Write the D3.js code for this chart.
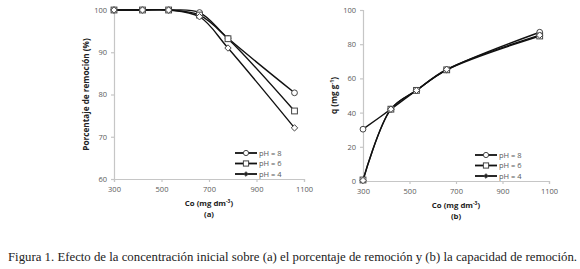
<!DOCTYPE html>
<html><head><meta charset="utf-8">
<script src="https://cdn.jsdelivr.net/npm/d3@7/dist/d3.min.js"></script>
<style>body{margin:0;background:#fff}svg{display:block}</style>
</head><body>
<svg id="c" width="580" height="269"></svg>
<script>
// Data
const seriesNames = ["pH = 8", "pH = 6", "pH = 4"];
const coA = [300, 420, 530, 660, 780, 1060];
const removalPH8 = [100, 100, 100, 99.4, 93.3, 80.4];
const removalPH6 = [100, 100, 100, 98.8, 93.2, 76.1];
const removalPH4 = [100, 100, 100, 98.4, 91.0, 72.1];
const coB = [300, 420, 530, 660, 1060];
const qPH8 = [30.3, 42, 53, 65, 87];
const qPH6 = [0.6, 42, 53, 65, 84.8];
const qPH4 = [0.3, 42, 53, 65.3, 85.3];
const xTicks = [300, 500, 700, 900, 1100];
const yTicksA = [60, 70, 80, 90, 100];
const yTicksB = [0, 20, 40, 60, 80, 100];
const caption = "Figura 1. Efecto de la concentración inicial sobre (a) el porcentaje de remoción y (b) la capacidad de remoción.";

const svg = d3.select("#c");
const axisColor = "#c6c6c6", tickText = "#595959";
const fontSans = "'Open Sans', sans-serif";
const markers = ["circle", "square", "diamond"];

function drawMarker(g, type, x, y, legend) {
  const s = legend ? 2.6 : 2.9;
  if (type === "circle") {
    g.append("circle").attr("cx", x).attr("cy", y).attr("r", s)
      .attr("fill", "#fff").attr("stroke", "#444").attr("stroke-width", 1);
  } else if (type === "square") {
    g.append("rect").attr("x", x - s).attr("y", y - s).attr("width", 2 * s).attr("height", 2 * s)
      .attr("fill", "#fff").attr("stroke", "#444").attr("stroke-width", 1);
  } else {
    const d = legend ? 2.3 : 3.2;
    g.append("path").attr("d", `M${x},${y - d}L${x + d},${y}L${x},${y + d}L${x - d},${y}Z`)
      .attr("fill", legend ? "#222" : "#fff").attr("stroke", "#444").attr("stroke-width", 1);
  }
}

function panel(cfg) {
  const g = svg.append("g");
  const x = d3.scaleLinear().domain([300, 1100]).range([cfg.x0, cfg.x1]);
  const y = d3.scaleLinear().domain(cfg.yDomain).range([cfg.y1, cfg.y0]);

  const xa = g.append("g").attr("transform", `translate(0,${cfg.y1})`)
    .call(d3.axisBottom(x).tickValues(xTicks).tickFormat(d3.format("d")).tickSize(3).tickPadding(5));
  const ya = g.append("g").attr("transform", `translate(${cfg.x0},0)`)
    .call(d3.axisLeft(y).tickValues(cfg.yTicks).tickFormat(d3.format("d")).tickSize(3).tickPadding(4));
  [xa, ya].forEach(a => {
    a.selectAll("path,line").attr("stroke", axisColor).attr("stroke-width", 1.2);
    a.selectAll("text").attr("fill", tickText).style("font-family", fontSans).style("font-size", "7.5px");
  });

  const line = d3.line().x(d => x(d[0])).y(d => y(d[1])).curve(d3.curveCatmullRom.alpha(0.5));
  cfg.series.forEach((vals, i) => {
    const pts = cfg.xs.map((v, k) => [v, vals[k]]);
    g.append("path").datum(pts).attr("d", line).attr("fill", "none")
      .attr("stroke", "#111").attr("stroke-width", 1.4);
  });
  cfg.series.forEach((vals, i) => {
    cfg.xs.forEach((v, k) => drawMarker(g, markers[i], x(v), y(vals[k]), false));
  });

  // legend
  seriesNames.forEach((n, i) => {
    const ly = cfg.ly + i * 10.5;
    g.append("line").attr("x1", cfg.lx).attr("x2", cfg.lx + 22).attr("y1", ly).attr("y2", ly)
      .attr("stroke", "#111").attr("stroke-width", 1.8);
    drawMarker(g, markers[i], cfg.lx + 11, ly, true);
    g.append("text").attr("x", cfg.lx + 24).attr("y", ly + 2.8).text(n)
      .attr("fill", tickText).style("font-family", fontSans).style("font-size", "7.5px");
  });

  // axis titles
  const cx = (cfg.x0 + cfg.x1) / 2;
  const xt = g.append("text").attr("x", cx).attr("y", cfg.y1 + 27).attr("text-anchor", "middle")
    .style("font-family", fontSans).style("font-size", "7.8px").style("font-weight", "bold").attr("fill", "#222");
  xt.append("tspan").text("Co (mg dm");
  xt.append("tspan").text("-3").attr("dy", -3).style("font-size", "5px");
  xt.append("tspan").text(")").attr("dy", 3);
  g.append("text").attr("x", cx).attr("y", cfg.y1 + 38).attr("text-anchor", "middle").text(cfg.tag)
    .style("font-family", fontSans).style("font-size", "7.8px").style("font-weight", "bold").attr("fill", "#222");

  const yt = g.append("text").attr("transform", `translate(${cfg.yLabelX},${(cfg.y0 + cfg.y1) / 2}) rotate(-90)`)
    .attr("text-anchor", "middle")
    .style("font-family", fontSans).style("font-size", "8.2px").style("font-weight", "bold").attr("fill", "#222");
  cfg.yLabel.forEach(p => {
    const t = yt.append("tspan").text(p.t);
    if (p.sup) t.attr("dy", -3).style("font-size", "5.5px");
    if (p.down) t.attr("dy", 3);
  });
}

panel({
  x0: 114, x1: 304, y0: 10, y1: 179, yDomain: [60, 100], yTicks: yTicksA,
  xs: coA, series: [removalPH8, removalPH6, removalPH4],
  lx: 235, ly: 153, tag: "(a)", yLabelX: 89,
  yLabel: [{t: "Porcentaje de remoción (%)"}]
});
panel({
  x0: 363, x1: 549, y0: 10, y1: 181, yDomain: [0, 100], yTicks: yTicksB,
  xs: coB, series: [qPH8, qPH6, qPH4],
  lx: 475, ly: 155, tag: "(b)", yLabelX: 337,
  yLabel: [{t: "q (mg g"}, {t: "-1", sup: true}, {t: ")", down: true}]
});

svg.append("text").attr("x", 8).attr("y", 261).text(caption)
  .style("font-family", "'Liberation Serif', serif").style("font-size", "11.6px").attr("fill", "#222")
  .attr("textLength", 569).attr("lengthAdjust", "spacingAndGlyphs");
</script>
</body></html>
